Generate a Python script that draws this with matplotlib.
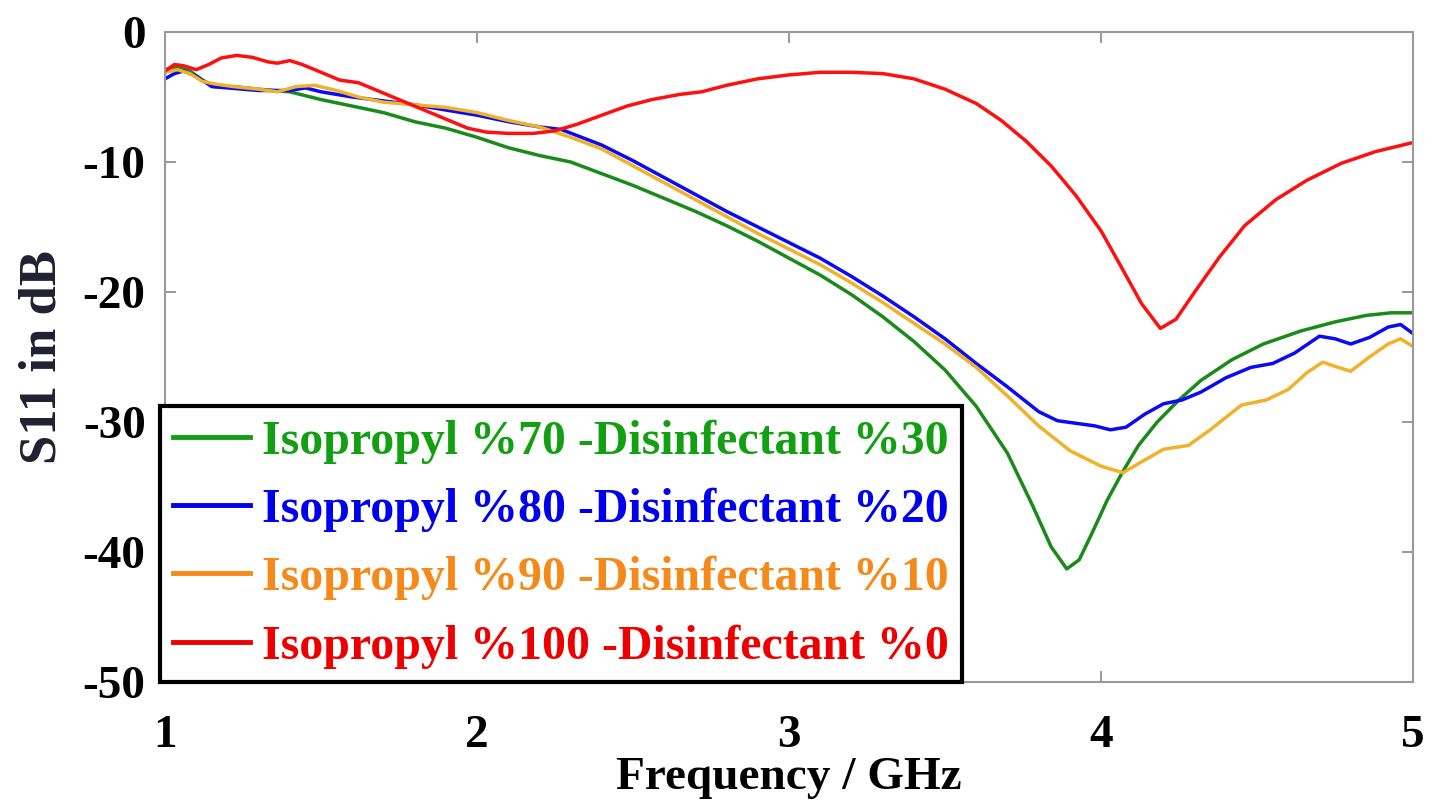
import numpy as np
import matplotlib
matplotlib.use("Agg")
import matplotlib.pyplot as plt
from matplotlib.lines import Line2D

# S11 curves (frequency in GHz, S11 in dB)
f_green = [1.00, 1.04, 1.08, 1.12, 1.16, 1.22, 1.30, 1.40, 1.50, 1.60, 1.70, 1.80,
           1.90, 2.00, 2.10, 2.20, 2.30, 2.40, 2.50, 2.60, 2.70, 2.80, 2.90, 3.00,
           3.10, 3.20, 3.30, 3.40, 3.50, 3.60, 3.70, 3.78, 3.84, 3.89, 3.93, 3.97,
           4.02, 4.07, 4.12, 4.18, 4.25, 4.32, 4.42, 4.52, 4.64, 4.75, 4.85, 4.93, 5.00]
s_green = [-2.9, -2.7, -3.0, -3.7, -4.2, -4.2, -4.4, -4.6, -5.2, -5.7, -6.2, -6.9,
           -7.4, -8.1, -8.9, -9.5, -10.0, -10.9, -11.8, -12.8, -13.8, -14.9, -16.1, -17.4,
           -18.7, -20.2, -21.9, -23.8, -26.0, -28.8, -32.4, -36.4, -39.6, -41.3, -40.6, -38.6,
           -36.0, -33.8, -31.8, -30.0, -28.3, -26.8, -25.2, -24.0, -23.0, -22.3, -21.8, -21.6, -21.6]

f_blue = [1.00, 1.03, 1.06, 1.10, 1.15, 1.20, 1.30, 1.40, 1.45, 1.50, 1.60, 1.70,
          1.80, 1.90, 2.00, 2.10, 2.20, 2.27, 2.40, 2.50, 2.60, 2.70, 2.80, 2.90,
          3.00, 3.10, 3.20, 3.30, 3.40, 3.50, 3.60, 3.70, 3.80, 3.86, 3.92, 3.98,
          4.03, 4.08, 4.14, 4.20, 4.26, 4.32, 4.40, 4.48, 4.55, 4.62, 4.70, 4.75,
          4.80, 4.86, 4.92, 4.96, 5.00]
s_blue = [-3.6, -3.2, -3.0, -3.4, -4.2, -4.3, -4.5, -4.5, -4.3, -4.6, -5.0, -5.3,
          -5.6, -6.0, -6.4, -6.9, -7.3, -7.5, -8.7, -9.9, -11.2, -12.5, -13.8, -15.0,
          -16.2, -17.4, -18.8, -20.3, -21.9, -23.6, -25.5, -27.3, -29.2, -29.9, -30.1, -30.3,
          -30.6, -30.4, -29.4, -28.6, -28.3, -27.7, -26.6, -25.8, -25.5, -24.7, -23.4, -23.6,
          -24.0, -23.5, -22.7, -22.5, -23.2]

f_orange = [1.00, 1.04, 1.08, 1.12, 1.16, 1.22, 1.30, 1.36, 1.42, 1.48, 1.55, 1.62,
            1.70, 1.80, 1.90, 2.00, 2.10, 2.20, 2.30, 2.40, 2.50, 2.60, 2.70, 2.80,
            2.90, 3.00, 3.10, 3.20, 3.30, 3.40, 3.50, 3.60, 3.70, 3.80, 3.90, 4.00,
            4.07, 4.12, 4.20, 4.28, 4.35, 4.45, 4.53, 4.60, 4.66, 4.71, 4.76, 4.80,
            4.86, 4.92, 4.96, 5.00]
s_orange = [-3.1, -2.9, -3.2, -3.8, -4.0, -4.2, -4.4, -4.6, -4.2, -4.1, -4.5, -5.0,
            -5.4, -5.6, -5.8, -6.2, -6.8, -7.3, -8.1, -9.0, -10.3, -11.6, -12.9, -14.2,
            -15.5, -16.7, -17.9, -19.3, -20.8, -22.4, -24.0, -25.8, -28.0, -30.3, -32.2, -33.4,
            -33.9, -33.2, -32.1, -31.8, -30.6, -28.7, -28.3, -27.5, -26.2, -25.4, -25.8, -26.1,
            -25.0, -24.0, -23.6, -24.2]

f_red = [1.00, 1.03, 1.06, 1.10, 1.14, 1.18, 1.23, 1.28, 1.33, 1.36, 1.40, 1.44,
         1.50, 1.56, 1.62, 1.68, 1.75, 1.83, 1.91, 1.97, 2.03, 2.10, 2.18, 2.25,
         2.32, 2.40, 2.48, 2.56, 2.65, 2.72, 2.80, 2.90, 3.00, 3.10, 3.20, 3.30,
         3.40, 3.50, 3.60, 3.68, 3.76, 3.84, 3.92, 4.00, 4.07, 4.13, 4.19, 4.24,
         4.30, 4.38, 4.46, 4.56, 4.66, 4.77, 4.88, 5.00]
s_red = [-3.0, -2.5, -2.6, -2.9, -2.5, -2.0, -1.8, -1.95, -2.3, -2.4, -2.2, -2.5,
         -3.1, -3.7, -3.9, -4.5, -5.2, -6.0, -6.8, -7.4, -7.7, -7.8, -7.8, -7.6,
         -7.1, -6.4, -5.7, -5.2, -4.8, -4.6, -4.1, -3.6, -3.3, -3.1, -3.1, -3.2,
         -3.6, -4.4, -5.5, -6.8, -8.4, -10.3, -12.6, -15.3, -18.3, -20.9, -22.8, -22.1,
         -20.0, -17.3, -14.9, -12.9, -11.4, -10.1, -9.2, -8.5]

labels = ["Isopropyl %70 -Disinfectant %30",
          "Isopropyl %80 -Disinfectant %20",
          "Isopropyl %90 -Disinfectant %10",
          "Isopropyl %100 -Disinfectant %0"]
line_colors = ["#1a8a1a", "#0a0af5", "#f0b22a", "#ff1010"]
legend_colors = ["#12a012", "#0000ee", "#f5891a", "#ee0000"]

plt.rcParams["font.family"] = ["Liberation Serif", "DejaVu Serif"]
plt.rcParams["font.weight"] = "bold"
plt.rcParams["axes.unicode_minus"] = False

fig = plt.figure(figsize=(14.4, 8), dpi=100)
ax = fig.add_axes([0.1146, 0.1475, 0.8667, 0.8125])

series = [(f_green, s_green), (f_blue, s_blue), (f_orange, s_orange), (f_red, s_red)]
for (f, s), c in zip(series, line_colors):
    ax.plot(f, s, color=c, lw=2.5)

ax.set_xlim(1, 5)
ax.set_ylim(-50, 0)
ax.set_xticks([1, 2, 3, 4, 5])
ax.set_yticks([0, -10, -20, -30, -40, -50])
ax.tick_params(direction="in", length=8, width=1.2, color="#888888",
               top=True, right=True, labelsize=34, pad=14)
ax.tick_params(axis="x", pad=24)
for sp in ax.spines.values():
    sp.set_color("#999999")
    sp.set_linewidth(1.5)
for lab in ax.get_xticklabels() + ax.get_yticklabels():
    lab.set_fontweight("bold")

ax.set_xlabel("Frequency / GHz", fontsize=34, fontweight="bold", labelpad=0)
ax.set_ylabel("S11 in dB", fontsize=38, fontweight="bold", color="#202030", labelpad=12)

handles = [Line2D([0], [0], color=c, lw=3.5) for c in legend_colors]
leg = ax.legend(handles, labels, loc="lower left", bbox_to_anchor=(-0.004, 0.0),
                labelcolor=legend_colors, fancybox=False,
                framealpha=1, borderaxespad=0, borderpad=0.28, labelspacing=0.5,
                handlelength=1.6, handletextpad=0.25,
                prop={"weight": "bold", "size": 34.5})
leg.get_frame().set_edgecolor("black")
leg.get_frame().set_linewidth(3)

fig.savefig("out.png", dpi=100)
